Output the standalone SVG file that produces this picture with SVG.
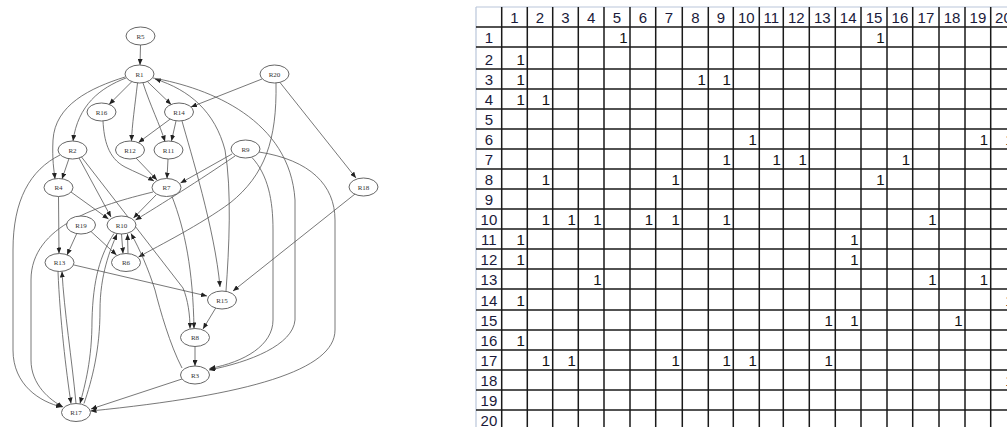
<svg xmlns="http://www.w3.org/2000/svg" width="1007" height="427" viewBox="0 0 1007 427">
<style>
.n ellipse{fill:#fff;stroke:#555;stroke-width:0.9}
.n text{font-family:"Liberation Serif",serif;font-size:7px;fill:#333;text-anchor:middle}
.e path{fill:none;stroke:#555;stroke-width:0.8;marker-end:url(#ah)}
.g{stroke:#1a1a1a;stroke-width:1.5;fill:none}
.b{stroke:#b9c6da;stroke-width:1.2;fill:none}
.h{font-family:"Liberation Sans",Arial,sans-serif;font-size:15px;fill:#1a1a3a;text-anchor:middle}
.v{font-family:"Liberation Sans",Arial,sans-serif;font-size:15px;fill:#111;text-anchor:end}
</style>
<defs>
<marker id="ah" markerUnits="userSpaceOnUse" markerWidth="6" markerHeight="5" refX="6" refY="2.5" orient="auto">
<path d="M0,0 L6,2.5 L0,5 z" fill="#222"/>
</marker>
</defs>
<rect width="1007" height="427" fill="#fff"/>
<g id="connectors" class="e">
<path d="M140.5,45 L140,65"/>
<path d="M226,291 C229,250 232,190 225,150 C215,112 190,90 155,79"/>
<path d="M126,78 C100,88 78,105 73,141"/>
<path d="M153,78 C210,88 290,120 295,200 L295,320 C293,345 250,362 209,370"/>
<path d="M195,346.5 L195,366"/>
<path d="M252,157.5 C268,175 273,200 273,230 L273,320 C273,345 245,362 209.5,368.5"/>
<path d="M125,77 C90,88 55,105 53,140 C52,160 54,170 55,179"/>
<path d="M69,158.5 L62,179"/>
<path d="M121.5,234 L123,253.5"/>
<path d="M91,231.5 L116.5,255"/>
<path d="M276,83 C277,140 265,175 230,203 C200,225 160,245 138.5,257"/>
<path d="M232,154 L180.5,183"/>
<path d="M168,159 L167,178.5"/>
<path d="M136,158 L157,180"/>
<path d="M103,121 C104,140 108,158 125,167 C135,172 145,176 154,181"/>
<path d="M81.5,157 L183,288 C188,300 190,315 190,328.5"/>
<path d="M172,196.5 C185,230 193,270 194,328.5"/>
<path d="M216,307.5 L203,329"/>
<path d="M79,158 L111,217"/>
<path d="M182,368 C170,345 160,310 155,290 C148,268 140,250 131,233.5"/>
<path d="M71,192 L108.5,219"/>
<path d="M128,253.5 L127.5,234"/>
<path d="M156,195 L133.5,218"/>
<path d="M235,156 C200,180 160,205 135.5,220"/>
<path d="M84,403.5 C92,380 100,350 100,310 C100,275 110,250 117,234"/>
<path d="M143,83 C150,105 160,125 165,141.5"/>
<path d="M176,121 L171.5,141"/>
<path d="M137.5,83 C135,105 132,125 131.5,141"/>
<path d="M171,118.5 L138.5,142.5"/>
<path d="M58.5,196.5 L59,253.5"/>
<path d="M76,403.5 C72,360 64,310 62,271.5"/>
<path d="M77,233 L67,255"/>
<path d="M147.4,81.6 L171.1,104.4"/>
<path d="M262,79 L191,107"/>
<path d="M74,265 L207,296"/>
<path d="M182,121 C190,150 215,230 220,287"/>
<path d="M355,194 L233,291"/>
<path d="M131.9,81.6 L109.1,104.4"/>
<path d="M60,155 C30,170 13,200 13,250 L13,350 C13,385 40,402 62,407"/>
<path d="M182,379 L91,409"/>
<path d="M153,192 C100,205 31,225 31,280 L31,360 C31,385 50,400 63,407"/>
<path d="M259,152 C310,160 335,185 335,220 L335,330 C335,370 250,395 90.5,411"/>
<path d="M114,233.5 C100,255 93,280 92,320 C92,360 85,385 80,403.5"/>
<path d="M58,271.5 C60,320 66,370 71,403.5"/>
<path d="M280,82.5 L356,178"/>
</g>
<g id="R5" class="n"><ellipse cx="140.5" cy="36" rx="14.5" ry="9"/><text x="140.5" y="38.5">R5</text></g>
<g id="R1" class="n"><ellipse cx="139.5" cy="74" rx="14.5" ry="9"/><text x="139.5" y="76.5">R1</text></g>
<g id="R16" class="n"><ellipse cx="101.5" cy="112" rx="14.5" ry="9"/><text x="101.5" y="114.5">R16</text></g>
<g id="R14" class="n"><ellipse cx="179" cy="112" rx="14.5" ry="9"/><text x="179" y="114.5">R14</text></g>
<g id="R20" class="n"><ellipse cx="274.5" cy="74" rx="14.5" ry="9"/><text x="274.5" y="76.5">R20</text></g>
<g id="R2" class="n"><ellipse cx="72.5" cy="150" rx="14.5" ry="9"/><text x="72.5" y="152.5">R2</text></g>
<g id="R12" class="n"><ellipse cx="130" cy="150" rx="14.5" ry="9"/><text x="130" y="152.5">R12</text></g>
<g id="R11" class="n"><ellipse cx="168.5" cy="150" rx="14.5" ry="9"/><text x="168.5" y="152.5">R11</text></g>
<g id="R9" class="n"><ellipse cx="245.5" cy="149" rx="14.5" ry="9"/><text x="245.5" y="151.5">R9</text></g>
<g id="R4" class="n"><ellipse cx="58.5" cy="187.5" rx="14.5" ry="9"/><text x="58.5" y="190">R4</text></g>
<g id="R7" class="n"><ellipse cx="166.5" cy="187.5" rx="14.5" ry="9"/><text x="166.5" y="190">R7</text></g>
<g id="R18" class="n"><ellipse cx="363.5" cy="187" rx="14.5" ry="9"/><text x="363.5" y="189.5">R18</text></g>
<g id="R19" class="n"><ellipse cx="81" cy="225" rx="14.5" ry="9"/><text x="81" y="227.5">R19</text></g>
<g id="R10" class="n"><ellipse cx="121.5" cy="225" rx="14.5" ry="9"/><text x="121.5" y="227.5">R10</text></g>
<g id="R13" class="n"><ellipse cx="59.5" cy="262.5" rx="14.5" ry="9"/><text x="59.5" y="265">R13</text></g>
<g id="R6" class="n"><ellipse cx="126" cy="262.5" rx="14.5" ry="9"/><text x="126" y="265">R6</text></g>
<g id="R15" class="n"><ellipse cx="222" cy="300" rx="14.5" ry="9"/><text x="222" y="302.5">R15</text></g>
<g id="R8" class="n"><ellipse cx="195" cy="337.5" rx="14.5" ry="9"/><text x="195" y="340">R8</text></g>
<g id="R3" class="n"><ellipse cx="195" cy="375" rx="14.5" ry="9"/><text x="195" y="377.5">R3</text></g>
<g id="R17" class="n"><ellipse cx="76" cy="412.5" rx="14.5" ry="9"/><text x="76" y="415">R17</text></g>
<g id="matrix">
<path class="b" d="M476,7 H1007 M476,7 V427"/>
<path class="g" d="M501.7,7V427M527.3,7V427M552.7,7V427M578.3,7V427M604,7V427M630,7V427M655.7,7V427M682.3,7V427M708.3,7V427M733.3,7V427M759.3,7V427M783.3,7V427M809.3,7V427M835.3,7V427M861,7V427M887,7V427M912.7,7V427M939,7V427M965,7V427M990.7,7V427"/>
<path class="g" d="M476,27H1007M476,47H1007M476,69H1007M476,89H1007M476,109H1007M476,129H1007M476,149H1007M476,169H1007M476,189H1007M476,209H1007M476,229H1007M476,249H1007M476,269H1007M476,289H1007M476,310H1007M476,330H1007M476,350H1007M476,370H1007M476,390H1007M476,410H1007"/>
<g class="h">
<text x="514.5" y="23">1</text><text x="540" y="23">2</text><text x="565.5" y="23">3</text><text x="591.2" y="23">4</text><text x="617" y="23">5</text><text x="642.9" y="23">6</text><text x="669" y="23">7</text><text x="695.3" y="23">8</text><text x="720.8" y="23">9</text><text x="746.3" y="23">10</text><text x="771.3" y="23">11</text><text x="796.3" y="23">12</text><text x="822.3" y="23">13</text><text x="848.2" y="23">14</text><text x="874" y="23">15</text><text x="899.9" y="23">16</text><text x="925.9" y="23">17</text><text x="952" y="23">18</text><text x="977.9" y="23">19</text><text x="1003.4" y="23">20</text>
<text x="488.9" y="43">1</text><text x="488.9" y="65">2</text><text x="488.9" y="85">3</text><text x="488.9" y="105">4</text><text x="488.9" y="125">5</text><text x="488.9" y="145">6</text><text x="488.9" y="165">7</text><text x="488.9" y="185">8</text><text x="488.9" y="205">9</text><text x="488.9" y="225">10</text><text x="488.9" y="245">11</text><text x="488.9" y="265">12</text><text x="488.9" y="285">13</text><text x="488.9" y="306">14</text><text x="488.9" y="326">15</text><text x="488.9" y="346">16</text><text x="488.9" y="366">17</text><text x="488.9" y="386">18</text><text x="488.9" y="406">19</text><text x="488.9" y="426">20</text>
</g>
<g class="v">
<text x="627.5" y="43">1</text><text x="884.5" y="43">1</text>
<text x="524.8" y="65">1</text>
<text x="524.8" y="85">1</text><text x="705.8" y="85">1</text><text x="730.8" y="85">1</text>
<text x="524.8" y="105">1</text><text x="550.2" y="105">1</text>
<text x="756.8" y="145">1</text><text x="988.2" y="145">1</text><text x="1013.5" y="145">1</text>
<text x="730.8" y="165">1</text><text x="780.8" y="165">1</text><text x="806.8" y="165">1</text><text x="910.2" y="165">1</text>
<text x="550.2" y="185">1</text><text x="679.8" y="185">1</text><text x="884.5" y="185">1</text>
<text x="550.2" y="225">1</text><text x="575.8" y="225">1</text><text x="601.5" y="225">1</text><text x="653.2" y="225">1</text><text x="679.8" y="225">1</text><text x="730.8" y="225">1</text><text x="936.5" y="225">1</text>
<text x="524.8" y="245">1</text><text x="858.5" y="245">1</text>
<text x="524.8" y="265">1</text><text x="858.5" y="265">1</text>
<text x="601.5" y="285">1</text><text x="936.5" y="285">1</text><text x="988.2" y="285">1</text>
<text x="524.8" y="306">1</text><text x="1013.5" y="306">1</text>
<text x="832.8" y="326">1</text><text x="858.5" y="326">1</text><text x="962.5" y="326">1</text>
<text x="524.8" y="346">1</text>
<text x="550.2" y="366">1</text><text x="575.8" y="366">1</text><text x="679.8" y="366">1</text><text x="730.8" y="366">1</text><text x="756.8" y="366">1</text><text x="832.8" y="366">1</text>
<text x="1013.5" y="386">1</text>
</g>
</g>
</svg>
